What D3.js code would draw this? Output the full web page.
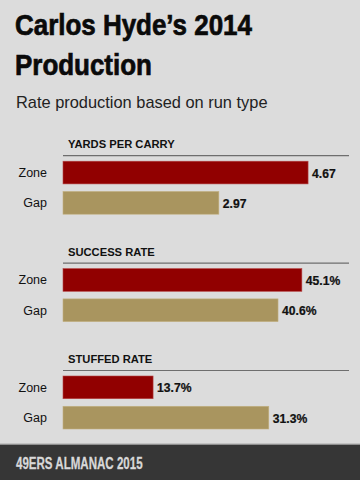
<!DOCTYPE html>
<html>
<head>
<meta charset="utf-8">
<script src="https://cdn.jsdelivr.net/npm/d3@7"></script>
<style>
  html, body { margin: 0; padding: 0; background: #dcdcdc; }
  svg { display: block; }
</style>
</head>
<body>
<script>
// ---- data ----
const sections = ["YARDS PER CARRY", "SUCCESS RATE", "STUFFED RATE"];
const runTypes = ["Zone", "Gap"];
const zoneValues = [4.67, 45.1, 13.7];
const gapValues = [2.97, 40.6, 31.3];
const valueLabels = [["4.67", "2.97"], ["45.1%", "40.6%"], ["13.7%", "31.3%"]];
const domainMax = [5.45, 54, 43.5];

const W = 360, H = 480;
const svg = d3.select("body").append("svg").attr("width", W).attr("height", H);

svg.append("rect").attr("width", W).attr("height", H).attr("fill", "#dcdcdc");

const sans = "'Liberation Sans', Arial, Helvetica, sans-serif";

function condensed(sel, x, y, sx) {
  return sel.append("text").attr("transform", `translate(${x},${y}) scale(${sx},1)`);
}

// title
condensed(svg, 15, 35, 0.88)
  .attr("font-family", sans).attr("font-weight", "bold").attr("font-size", 29.5)
  .attr("fill", "#0a0a0a").attr("stroke", "#0a0a0a").attr("stroke-width", 0.7)
  .text("Carlos Hyde\u2019s 2014");
condensed(svg, 15, 75, 0.88)
  .attr("font-family", sans).attr("font-weight", "bold").attr("font-size", 29.5)
  .attr("fill", "#0a0a0a").attr("stroke", "#0a0a0a").attr("stroke-width", 0.7)
  .text("Production");
svg.append("text").attr("x", 16).attr("y", 108)
  .attr("font-family", sans).attr("font-size", 16.4)
  .attr("fill", "#222").text("Rate production based on run type");

const colors = { Zone: "#910000", Gap: "#a9955f" };
const strokes = { Zone: "#b54545", Gap: "#c2b080" };
const x0 = 63, x1 = 349;

sections.forEach((name, i) => {
  const lineY = 155.7 + i * 107.4;
  const g = svg.append("g");
  const x = d3.scaleLinear().domain([0, domainMax[i]]).range([x0, x1]);
  const y = d3.scaleBand().domain(runTypes).range([lineY + 5.5, lineY + 58.5]).paddingInner(0.25);
  const vals = { Zone: zoneValues[i], Gap: gapValues[i] };

  g.append("text").attr("x", 68).attr("y", lineY - 7.5)
    .attr("font-family", sans).attr("font-weight", "bold").attr("font-size", 11.2)
    .attr("fill", "#111").text(name);
  g.append("line").attr("x1", x0).attr("x2", x1).attr("y1", lineY).attr("y2", lineY)
    .attr("stroke", "#6e6e6e").attr("stroke-width", 1.2);

  runTypes.forEach((t, j) => {
    g.append("rect")
      .attr("x", x(0)).attr("y", y(t))
      .attr("width", x(vals[t]) - x(0)).attr("height", y.bandwidth())
      .attr("fill", colors[t]).attr("stroke", strokes[t]).attr("stroke-width", 0.6);
    g.append("text")
      .attr("x", 47).attr("y", y(t) + y.bandwidth() / 2 + 4.5)
      .attr("text-anchor", "end")
      .attr("font-family", sans).attr("font-size", 12.5).attr("fill", "#111").text(t);
    condensed(g, x(vals[t]) + 4, y(t) + y.bandwidth() / 2 + 5, 0.9)
      .attr("font-family", sans).attr("font-weight", "bold").attr("font-size", 13.5)
      .attr("fill", "#111").attr("stroke", "#111").attr("stroke-width", 0.25)
      .text(valueLabels[i][j]);
  });
});

// footer
svg.append("rect").attr("x", 0).attr("y", 444.5).attr("width", W).attr("height", H - 444.5)
  .attr("fill", "#363636");
svg.append("line").attr("x1", 0).attr("x2", W).attr("y1", 444).attr("y2", 444)
  .attr("stroke", "#9a9a9a").attr("stroke-width", 0.8);
condensed(svg, 16, 469, 0.68)
  .attr("font-family", sans).attr("font-weight", "bold").attr("font-size", 17)
  .attr("fill", "#d8d8d8").attr("stroke", "#d8d8d8").attr("stroke-width", 0.3)
  .text("49ERS ALMANAC 2015");
</script>
</body>
</html>
